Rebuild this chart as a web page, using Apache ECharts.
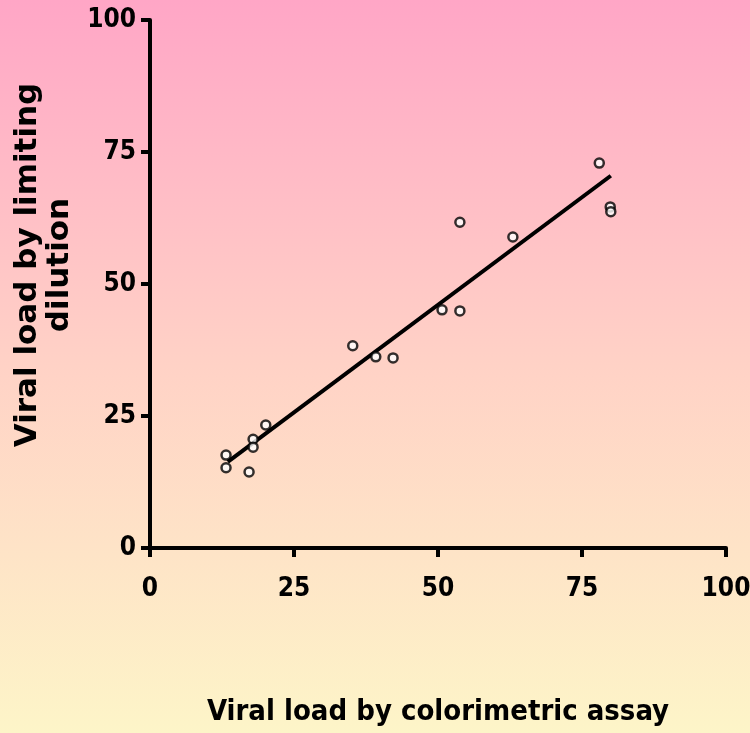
<!DOCTYPE html>
<html>
<head>
<meta charset="utf-8">
<script src="https://cdn.jsdelivr.net/npm/echarts@6/dist/echarts.min.js"></script>
<style>
  html, body { margin: 0; padding: 0; }
  #chart { width: 750px; height: 733px; }
</style>
</head>
<body>
<div id="chart"></div>
<script>
  // colorimetric assay (x) vs limiting dilution (y)
  const colorimetric = [13.2, 13.2, 17.2, 17.9, 17.9, 20.1, 35.2, 39.2, 42.2, 50.7, 53.8, 53.8, 63.0, 78.0, 79.9, 80.0];
  const limitingDilution = [17.6, 15.2, 14.4, 20.6, 19.1, 23.3, 38.3, 36.2, 36.0, 45.1, 44.9, 61.7, 58.9, 72.9, 64.6, 63.7];
  // regression line end points
  const fitX = [13.5, 80];
  const fitY = [16.3, 70.5];

  const narrow = '"Liberation Sans Narrow", "DejaVu Sans Condensed", "Liberation Sans", sans-serif';
  const wide = '"DejaVu Sans", "Liberation Sans", sans-serif';

  const points = colorimetric.map((x, i) => [x, limitingDilution[i]]);
  const fit = fitX.map((x, i) => [x, fitY[i]]);

  const chart = echarts.init(document.getElementById('chart'));
  chart.setOption({
    backgroundColor: new echarts.graphic.LinearGradient(0, 0, 0, 1, [
      { offset: 0, color: '#ffa6c6' },
      { offset: 0.5, color: '#ffd2c6' },
      { offset: 1, color: '#fdf5c8' }
    ]),
    animation: false,
    grid: { left: 150, right: 24, top: 20, bottom: 185, outerBoundsMode: 'none' },
    xAxis: {
      type: 'value',
      min: 0, max: 100, interval: 25,
      name: 'Viral load by colorimetric assay',
      nameLocation: 'middle',
      nameGap: 150,
      nameTextStyle: { fontFamily: narrow, fontWeight: 'bold', fontSize: 29, color: '#000' },
      axisLine: { lineStyle: { color: '#000', width: 4 } },
      axisTick: { length: 9, lineStyle: { color: '#000', width: 4 } },
      axisLabel: { margin: 28, fontFamily: narrow, fontWeight: 'bold', fontSize: 26, color: '#000' },
      splitLine: { show: false }
    },
    yAxis: {
      type: 'value',
      min: 0, max: 100, interval: 25,
      name: 'Viral load by limiting\ndilution',
      nameLocation: 'middle',
      nameGap: 68,
      nameTextStyle: { fontFamily: wide, fontWeight: 'bold', fontSize: 31, color: '#000', lineHeight: 32, padding: [0, 0, 0, 38] },
      axisLine: { lineStyle: { color: '#000', width: 4 } },
      axisTick: { length: 9, lineStyle: { color: '#000', width: 4 } },
      axisLabel: { margin: 14, fontFamily: narrow, fontWeight: 'bold', fontSize: 26, color: '#000' },
      splitLine: { show: false }
    },
    series: [
      {
        type: 'line',
        data: fit,
        symbol: 'none',
        lineStyle: { color: '#000', width: 4 },
        z: 2
      },
      {
        type: 'scatter',
        data: points,
        symbol: 'circle',
        symbolSize: 9,
        itemStyle: { color: '#fff', borderColor: '#000', borderWidth: 2.5 },
        z: 3
      }
    ]
  });
</script>
</body>
</html>
